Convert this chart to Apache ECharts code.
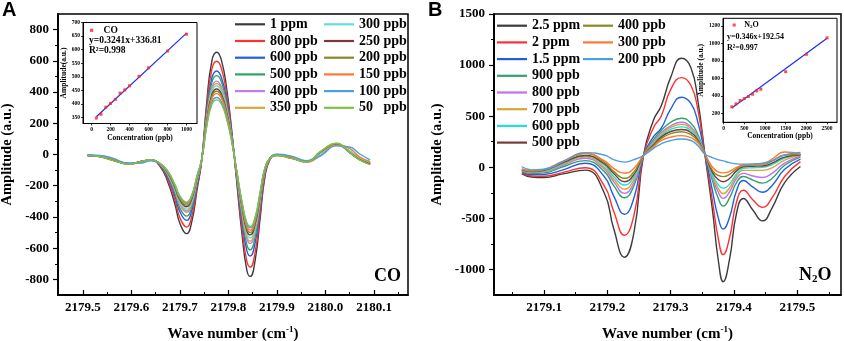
<!DOCTYPE html>
<html lang="en">
<head>
<meta charset="UTF-8">
<title>CO / N2O spectra</title>
<script src="https://cdn.jsdelivr.net/npm/echarts@6/dist/echarts.min.js"></script>
<style>
  body { margin: 0; background: #fff; }
  #chart { width: 844px; height: 341px; }
</style>
</head>
<body>
<div id="chart"></div>
<script>
// ---- panel A: CO spectra (wave number, amplitude) ----
const wnA = [2179.51, 2179.535, 2179.56, 2179.597, 2179.62, 2179.64, 2179.66, 2179.675, 2179.69, 2179.70,
  2179.714, 2179.725, 2179.735, 2179.745, 2179.755, 2179.766, 2179.776, 2179.786, 2179.797, 2179.807,
  2179.817, 2179.828, 2179.838, 2179.845, 2179.855, 2179.865, 2179.875, 2179.886, 2179.90, 2179.93,
  2179.961, 2179.99, 2180.023, 2180.05, 2180.07, 2180.092];

const co1000 = [-6,-12,-32,-58,-45,-36,-80,-175,-320,-440,-507,-425,-235,-40,320,600,655,600,410,150,-170,-510,-740,-781,-680,-420,-150,-30,-5,-20,-45,10,62,20,-25,-55];
const co800 = [-6,-12,-33,-59,-46,-36,-75,-162,-293,-404,-465,-390,-215,-38,292,547,597,547,374,137,-157,-471,-683,-721,-628,-388,-140,-28,-4,-22,-44,14,63,18,-28,-58];
const co600 = [-5,-11,-31,-58,-47,-37,-70,-146,-266,-366,-422,-354,-196,-35,261,490,535,490,335,123,-141,-424,-616,-650,-566,-349,-126,-26,-4,-20,-42,12,60,20,-26,-55];
const co500 = [-6,-13,-34,-60,-45,-35,-68,-136,-249,-343,-395,-331,-183,-34,247,463,505,463,316,116,-133,-398,-578,-610,-531,-328,-118,-25,-3,-22,-45,16,66,15,-30,-60];
const co400 = [-5,-12,-32,-59,-46,-36,-65,-128,-234,-321,-370,-310,-172,-33,230,431,470,431,294,108,-124,-372,-540,-570,-496,-307,-110,-24,-4,-21,-44,13,62,18,-27,-57];
const co350 = [-7,-14,-35,-61,-45,-35,-64,-124,-227,-312,-360,-302,-167,-33,222,417,455,417,285,104,-121,-363,-526,-555,-483,-299,-107,-24,-5,-24,-46,18,68,12,-32,-62];
const co300 = [-5,-11,-30,-58,-47,-37,-63,-121,-221,-304,-350,-293,-162,-32,215,403,440,403,276,101,-116,-349,-507,-535,-466,-288,-103,-23,-3,-20,-43,8,60,22,-22,-50];
const co250 = [-6,-13,-34,-60,-45,-35,-62,-116,-212,-291,-335,-281,-155,-32,205,385,420,385,263,96,-112,-336,-488,-515,-448,-277,-99,-23,-5,-23,-46,17,67,13,-31,-60];
const co200 = [-7,-14,-36,-61,-44,-34,-61,-112,-205,-282,-325,-272,-151,-31,198,371,405,371,253,93,-109,-326,-474,-500,-435,-269,-96,-22,-6,-25,-47,19,70,10,-33,-63];
const co150 = [-4,-8,-25,-60,-52,-36,-60,-109,-199,-273,-315,-264,-146,-31,190,357,390,357,244,89,-106,-317,-460,-485,-422,-261,-93,-22,0,-15,-50,-5,60,38,-15,-45];
const co100 = [-3,-6,-22,-58,-55,-40,-60,-107,-196,-269,-310,-260,-144,-31,178,334,365,334,228,84,-102,-307,-445,-470,-409,-253,-90,-22,2,-10,-40,-8,55,48,5,-35];
const co50 = [-7,-14,-36,-62,-44,-34,-59,-105,-193,-265,-305,-256,-141,-30,171,320,350,320,219,80,-100,-301,-437,-461,-401,-248,-89,-22,-6,-25,-47,20,72,12,-34,-65];

const coNames = ['1 ppm', '800 ppb', '600 ppb', '500 ppb', '400 ppb', '350 ppb',
  '300 ppb', '250 ppb', '200 ppb', '150 ppb', '100 ppb', '50   ppb'];

// ---- panel B: N2O spectra ----
const wnB = [2179.065, 2179.08, 2179.10, 2179.13, 2179.165, 2179.195, 2179.21, 2179.227, 2179.242, 2179.257,
  2179.273, 2179.285, 2179.30, 2179.317, 2179.332, 2179.343, 2179.354, 2179.366, 2179.375, 2179.383,
  2179.393, 2179.404, 2179.415, 2179.43, 2179.445, 2179.46, 2179.48, 2179.505];

const n2o2500 = [-65,-95,-100,-65,-28,-250,-600,-880,-640,114,463,600,880,1067,975,650,130,-420,-900,-1120,-900,-450,-305,-420,-525,-400,-150,8];
const n2o2000 = [-55,-85,-88,-50,-5,-180,-430,-665,-470,114,390,500,760,877,800,560,130,-330,-690,-855,-690,-340,-225,-320,-392,-300,-90,55];
const n2o1500 = [-45,-72,-70,-25,40,-90,-280,-460,-300,114,300,380,570,686,625,440,130,-230,-490,-605,-490,-230,-130,-195,-245,-180,-20,80];
const n2o900 = [-40,-60,-55,5,65,-40,-180,-298,-180,114,270,360,440,480,430,320,130,-130,-300,-380,-300,-150,-90,-125,-155,-110,20,100];
const n2o800 = [-35,-52,-45,20,88,-15,-140,-255,-150,114,250,340,405,440,395,300,130,-100,-240,-304,-240,-110,-60,-85,-100,-60,40,110];
const n2o700 = [-30,-48,-40,30,100,0,-115,-215,-120,114,240,325,390,420,380,290,130,-85,-205,-258,-200,-85,-30,-30,-30,-5,70,120];
const n2o600 = [-25,-45,-35,40,111,20,-90,-173,-95,114,230,310,370,395,360,280,130,-70,-170,-206,-165,-65,-10,-5,0,25,90,125];
const n2o500 = [-25,-42,-30,45,115,35,-60,-141,-70,114,220,295,350,370,340,265,130,-50,-120,-141,-110,-35,5,10,13,40,100,120];
const n2o400 = [-20,-38,-25,55,135,50,-40,-108,-45,114,210,280,330,348,320,255,130,-30,-80,-92,-70,-15,15,22,26,60,120,125];
const n2o300 = [-15,-35,-20,60,137,65,-10,-59,-10,114,200,260,295,310,290,240,130,0,-45,-55,-40,0,20,25,28,80,150,130];
const n2o200 = [5,-25,-20,55,143,120,75,50,75,114,185,230,262,276,262,210,130,95,75,62,45,33,30,33,40,65,120,145];

const n2oNames = ['2.5 ppm', '2 ppm', '1.5 ppm', '900 ppb', '800 ppb', '700 ppb', '600 ppb', '500 ppb',
  '400 ppb', '300 ppb', '200 ppb'];

// ---- insets: calibration ----
const coConc = [50, 100, 150, 200, 250, 300, 350, 400, 500, 600, 800, 1000];
const coAmp = [348, 362, 388, 402, 417, 440, 452, 467, 502, 533, 595, 657];
const coFitX = [50, 1000];
const coFitY = [353, 661];
const n2oConc = [200, 300, 400, 500, 600, 700, 800, 900, 1500, 2000, 2500];
const n2oAmp = [276, 310, 348, 370, 393, 420, 458, 477, 677, 875, 1062];
const n2oFitX = [200, 2500];
const n2oFitY = [262, 1058];

// ---- tick values ----
const aXMajor = [2179.5, 2179.6, 2179.7, 2179.8, 2179.9, 2180.0, 2180.1];
const aXMinor = [2179.55, 2179.65, 2179.75, 2179.85, 2179.95, 2180.05, 2180.15];
const aYMajor = [-800, -600, -400, -200, 0, 200, 400, 600, 800];
const aYMinor = [-700, -500, -300, -100, 100, 300, 500, 700];
const bXMajor = [2179.1, 2179.2, 2179.3, 2179.4, 2179.5];
const bXMinor = [2179.05, 2179.15, 2179.25, 2179.35, 2179.45, 2179.55];
const bYMajor = [-1000, -500, 0, 500, 1000, 1500];
const bYMinor = [-750, -250, 250, 750, 1250];
const coInsetX = [0, 200, 400, 600, 800, 1000];
const coInsetY = [350, 400, 450, 500, 550, 600, 650, 700];
const n2oInsetX = [0, 500, 1000, 1500, 2000, 2500];
const n2oInsetY = [200, 400, 600, 800, 1000, 1200];

const coSets = [co1000, co800, co600, co500, co400, co350, co300, co250, co200, co150, co100, co50];
const n2oSets = [n2o2500, n2o2000, n2o1500, n2o900, n2o800, n2o700, n2o600, n2o500, n2o400, n2o300, n2o200];

const coColors = ['#3c3c3c', '#ff3030', '#1f5fdc', '#2fa36b', '#c27cf0', '#d9a638',
  '#62dede', '#7a3a3a', '#8a8a22', '#ff7a2e', '#4c9fe2', '#7fc244'];
const n2oColors = ['#3c3c3c', '#ff3030', '#1f5fdc', '#2fa36b', '#c070f0', '#d9a630',
  '#22dede', '#7a3a3a', '#8a8a22', '#ff7a2e', '#4c9fe2'];

const serif = '"Liberation Serif", "Times New Roman", serif';
const txt = { color: '#000', fontFamily: serif, fontWeight: 'bold' };
const plain = v => String(v);
const fmt1 = v => v.toFixed(1);

function lineSeries(name, xs, ys, color, idx) {
  return {
    name: name, type: 'line', xAxisIndex: idx, yAxisIndex: idx,
    data: xs.map((x, i) => [x, ys[i]]),
    smooth: true, symbol: 'none',
    lineStyle: { color: color, width: 1.4 }, itemStyle: { color: color }
  };
}

function valueAxis(grid, pos, min, max, major, labelFmt, extra) {
  const isX = pos === 'bottom';
  return Object.assign({
    gridIndex: grid, type: 'value', position: pos, min: min, max: max,
    axisLine: { onZero: false, lineStyle: { color: '#000', width: 1.5 } },
    axisTick: { inside: isX, length: 5, customValues: major, lineStyle: { color: '#000', width: 1.2 } },
    axisLabel: Object.assign({ customValues: major, fontSize: 13, margin: isX ? 6 : 9, formatter: labelFmt }, txt),
    splitLine: { show: false }
  }, extra);
}

function minorAxis(grid, pos, min, max, ticks) {
  return {
    gridIndex: grid, type: 'value', position: pos, min: min, max: max,
    axisLine: { show: true, onZero: false, lineStyle: { color: '#000', width: 1.5 } },
    axisTick: { show: true, inside: pos === 'bottom', length: 3, customValues: ticks, lineStyle: { color: '#000', width: 1 } },
    axisLabel: { show: false }, splitLine: { show: false }
  };
}

function insetAxis(grid, pos, min, max, ticks, name, gap) {
  return {
    gridIndex: grid, type: 'value', position: pos, min: min, max: max,
    name: name, nameLocation: 'middle', nameGap: gap,
    nameTextStyle: Object.assign({ fontSize: 7.5 }, txt),
    axisLine: { onZero: false, lineStyle: { color: '#000', width: 1 } },
    axisTick: { length: 2, customValues: ticks, lineStyle: { color: '#000', width: 0.8 } },
    axisLabel: Object.assign({ customValues: ticks, fontSize: 5.5, margin: 3, formatter: plain }, txt),
    splitLine: { show: false }
  };
}

const xName = '{t|Wave number (cm}{s|-1}{t|)}';
const xNameStyle = Object.assign({
  fontSize: 15,
  rich: {
    t: Object.assign({ fontSize: 15 }, txt),
    s: Object.assign({ fontSize: 9, padding: [0, 0, 9, 0] }, txt)
  }
}, txt);
const yNameStyle = Object.assign({ fontSize: 14.5 }, txt);

const series = [];
coNames.forEach((n, i) => series.push(lineSeries(n, wnA, coSets[i], coColors[i], 0)));
n2oNames.forEach((n, i) => series.push(lineSeries('N2O ' + n, wnB, n2oSets[i], n2oColors[i], 2)));

series.push({
  name: 'CO', type: 'scatter', xAxisIndex: 4, yAxisIndex: 4, symbol: 'rect', symbolSize: 3,
  itemStyle: { color: '#ff2020' }, data: coConc.map((c, i) => [c, coAmp[i]]), z: 3
});
series.push({
  name: 'coFit', type: 'line', xAxisIndex: 4, yAxisIndex: 4, symbol: 'none',
  lineStyle: { color: '#1a2cff', width: 1.2 }, data: coFitX.map((c, i) => [c, coFitY[i]])
});
series.push({
  name: 'N2O', type: 'scatter', xAxisIndex: 5, yAxisIndex: 5, symbol: 'rect', symbolSize: 3,
  itemStyle: { color: '#ff2020' }, data: n2oConc.map((c, i) => [c, n2oAmp[i]]), z: 3
});
series.push({
  name: 'n2oFit', type: 'line', xAxisIndex: 5, yAxisIndex: 5, symbol: 'none',
  lineStyle: { color: '#1a2cff', width: 1.2 }, data: n2oFitX.map((c, i) => [c, n2oFitY[i]])
});

const legendText = Object.assign({ fontSize: 14, lineHeight: 14 }, txt);
function specLegend(left, top, names, prefix) {
  return {
    left: left, top: top, padding: 0, orient: 'vertical', icon: 'rect', itemWidth: 30, itemHeight: 2.2, itemGap: 2.7,
    data: names.map(n => prefix + n), formatter: n => n.replace('N2O ', ''),
    textStyle: legendText, selectedMode: false
  };
}

const square = 'path://M0,0h10v10h-10z';
const sub = {
  a: Object.assign({ fontSize: 18 }, txt),
  b: Object.assign({ fontSize: 11, padding: [9, 0, 0, 0] }, txt)
};

const gridBase = { show: true, borderColor: '#000', outerBoundsMode: 'none', containLabel: false };

const option = {
  animation: false,
  backgroundColor: '#fff',
  grid: [
    Object.assign({ left: 58, top: 14, width: 350, height: 281, borderWidth: 1.5 }, gridBase),
    Object.assign({ left: 494, top: 14, width: 347, height: 281, borderWidth: 1.5 }, gridBase),
    Object.assign({ left: 83, top: 22.5, width: 114, height: 101, borderWidth: 1, backgroundColor: '#fff' }, gridBase),
    Object.assign({ left: 723, top: 18.3, width: 114, height: 104, borderWidth: 1, backgroundColor: '#fff' }, gridBase)
  ],
  xAxis: [
    valueAxis(0, 'bottom', 2179.449, 2180.17, aXMajor, fmt1,
      { name: xName, nameLocation: 'middle', nameGap: 30, nameTextStyle: xNameStyle }),
    minorAxis(0, 'bottom', 2179.449, 2180.17, aXMinor),
    valueAxis(1, 'bottom', 2179.021, 2179.569, bXMajor, fmt1,
      { name: xName, nameLocation: 'middle', nameGap: 30, nameTextStyle: xNameStyle }),
    minorAxis(1, 'bottom', 2179.021, 2179.569, bXMinor),
    insetAxis(2, 'bottom', -90, 1110, coInsetX, 'Concentration (ppb)', 11),
    insetAxis(3, 'bottom', -14, 2740, n2oInsetX, 'Concentration (ppb)', 10)
  ],
  yAxis: [
    valueAxis(0, 'left', -900, 900, aYMajor, plain,
      { name: 'Amplitude (a.u.)', nameLocation: 'middle', nameGap: 43, nameTextStyle: yNameStyle }),
    minorAxis(0, 'left', -900, 900, aYMinor),
    valueAxis(1, 'left', -1250, 1500, bYMajor, plain,
      { name: 'Amplitude (a.u.)', nameLocation: 'middle', nameGap: 49, nameTextStyle: yNameStyle }),
    minorAxis(1, 'left', -1250, 1500, bYMinor),
    insetAxis(2, 'left', 328, 700, coInsetY, 'Amplitude(a.u.)', 12),
    insetAxis(3, 'left', 100, 1285, n2oInsetY, 'Amplitude (a.u.)', 12)
  ],
  legend: [
    specLegend(235, 17.3, coNames.slice(0, 6), ''),
    specLegend(324, 17.3, coNames.slice(6), ''),
    specLegend(497, 18.7, n2oNames.slice(0, 8), 'N2O '),
    specLegend(583, 18.7, n2oNames.slice(8), 'N2O '),
    {
      left: 90, top: 25.3, padding: 0, data: ['CO'], icon: square, itemWidth: 14, itemHeight: 3.2, selectedMode: false,
      textStyle: Object.assign({ fontSize: 9.5, lineHeight: 10 }, txt)
    },
    {
      left: 732.7, top: 21, padding: 0, data: ['N2O'], icon: square, itemWidth: 10, itemHeight: 3, selectedMode: false,
      formatter: () => '{a|N}{b|2}{a|O}',
      textStyle: Object.assign({
        fontSize: 8,
        rich: { a: Object.assign({ fontSize: 8 }, txt), b: Object.assign({ fontSize: 5, padding: [4, 0, 0, 0] }, txt) }
      }, txt)
    }
  ],
  title: [
    { text: 'A', left: 2, top: 0, padding: 0, textStyle: { color: '#000', fontFamily: '"Liberation Sans", Arial, sans-serif', fontWeight: 'bold', fontSize: 20 } },
    { text: 'B', left: 428, top: 0, padding: 0, textStyle: { color: '#000', fontFamily: '"Liberation Sans", Arial, sans-serif', fontWeight: 'bold', fontSize: 20 } },
    { text: 'CO', left: 374, top: 267, padding: 0, textStyle: Object.assign({ fontSize: 18 }, txt) },
    { text: '{a|N}{b|2}{a|O}', left: 799, top: 265, padding: 0, textStyle: Object.assign({ fontSize: 18, rich: sub }, txt) },
    { text: 'y=0.3241x+336.81', left: 89, top: 35.3, padding: 0, textStyle: Object.assign({ fontSize: 9.5 }, txt) },
    { text: 'R²=0.998', left: 89, top: 46, padding: 0, textStyle: Object.assign({ fontSize: 9.5 }, txt) },
    { text: 'y=0.346x+192.54', left: 727, top: 32.7, padding: 0, textStyle: Object.assign({ fontSize: 8 }, txt) },
    { text: 'R²=0.997', left: 727, top: 43.5, padding: 0, textStyle: Object.assign({ fontSize: 8 }, txt) }
  ],
  series: series
};

const chart = echarts.init(document.getElementById('chart'), null, { renderer: 'canvas' });
chart.setOption(option);
</script>
</body>
</html>
